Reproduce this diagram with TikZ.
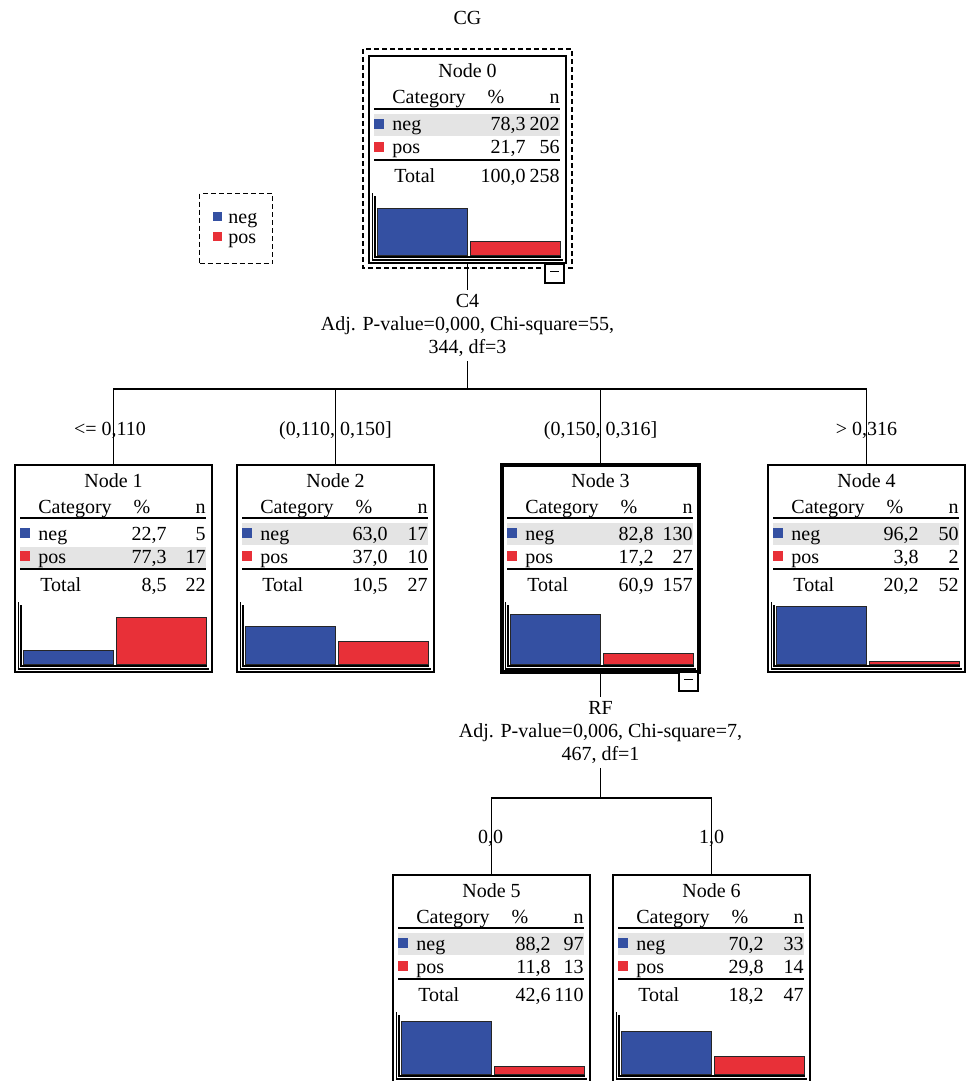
\documentclass[tikz,border=0pt]{standalone}
\usepackage{fontspec}
\setmainfont{Liberation Serif}
\definecolor{barblue}{RGB}{52,80,162}
\definecolor{barred}{RGB}{232,48,56}
\definecolor{hlgray}{RGB}{228,228,228}
\tikzset{
 txt/.style={inner sep=0pt, font=\fontsize{10}{11.5}\selectfont},
 tbox/.style={draw, line width=0.7pt, minimum width=98.5pt, minimum height=103.5pt, inner sep=0pt, outer sep=0pt},
 sepline/.style={line width=0.7pt},
 conn/.style={line width=0.7pt},
 barb/.style={fill=barblue, draw=black!85, line width=0.5pt},
 barr/.style={fill=barred, draw=black!85, line width=0.5pt},
 axisline/.style={line width=0.6pt, draw=black},
 dashbox/.style={draw, dash pattern=on 2.5pt off 1.5pt, line width=0.7pt},
 cbox/.style={draw, line width=0.6pt, minimum size=9.5pt, inner sep=0pt, outer sep=0pt, fill=white},
}
\newcommand\treebox[9]{%
  \def\Tn{#1}\def\TL{#2}\def\TT{#3}\def\Tt{#4}\def\Tnp{#5}\def\Tnn{#6}\def\Tpp{#7}\def\Tpn{#8}\def\Ttp{#9}\treeboxB}
\newcommand\treeboxB[3]{%
  \ifnum\Tnn<\Tpn
    \fill[hlgray] (\TL+5,\TT+82) rectangle (\TL+191,\TT+103);
  \else
    \fill[hlgray] (\TL+5,\TT+58) rectangle (\TL+191,\TT+80);
  \fi
  \node[tbox,#2,anchor=north west] (\Tn) at (\TL,\TT) {};
  \node[txt,anchor=base] (\Tn-title) at (\TL+98.5,\TT+22) {Node \Tt};
  \node[txt,anchor=base west] (\Tn-cat) at (\TL+23,\TT+48) {Category};
  \node[txt,anchor=base] (\Tn-pct) at (\TL+127,\TT+48) {\%};
  \node[txt,anchor=base east] (\Tn-n) at (\TL+191,\TT+48) {n};
  \draw[sepline] (\TL+5,\TT+53) -- (\TL+191,\TT+53);
  \fill[barblue] (\TL+5,\TT+63) rectangle (\TL+15,\TT+73);
  \node[txt,anchor=base west] (\Tn-neg) at (\TL+23,\TT+75) {neg};
  \node[txt,anchor=base east] (\Tn-negp) at (\TL+#3,\TT+75) {\Tnp};
  \node[txt,anchor=base east] (\Tn-negn) at (\TL+191,\TT+75) {\Tnn};
  \fill[barred] (\TL+5,\TT+86) rectangle (\TL+15,\TT+96);
  \node[txt,anchor=base west] (\Tn-pos) at (\TL+23,\TT+98) {pos};
  \node[txt,anchor=base east] (\Tn-posp) at (\TL+#3,\TT+98) {\Tpp};
  \node[txt,anchor=base east] (\Tn-posn) at (\TL+191,\TT+98) {\Tpn};
  \draw[sepline] (\TL+5,\TT+104) -- (\TL+191,\TT+104);
  \node[txt,anchor=base west] (\Tn-tot) at (\TL+25,\TT+126) {Total};
  \node[txt,anchor=base east] (\Tn-totp) at (\TL+#3,\TT+126) {\Ttp};
  \node[txt,anchor=base east] (\Tn-totn) at (\TL+191,\TT+126) {#1};
  \draw[axisline] (\TL+3.5,\TT+137) -- (\TL+3.5,\TT+204) -- (\TL+194,\TT+204);
  \draw[axisline] (\TL+6,\TT+140) -- (\TL+6,\TT+201) -- (\TL+192,\TT+201);
  \pgfmathsetmacro\hneg{60*\Tnn/#1}%
  \pgfmathsetmacro\hpos{60*\Tpn/#1}%
  \draw[barb] (\TL+8,\TT+199) rectangle (\TL+98,\TT+199-\hneg);
  \draw[barr] (\TL+101,\TT+199) rectangle (\TL+191,\TT+199-\hpos);
}
\begin{document}
\begin{tikzpicture}[x=0.5pt,y=-0.5pt]
\useasboundingbox (0,0) rectangle (967,1081);
\fill[white] (0,0) rectangle (967,1081);

\node[txt,anchor=base] (title) at (467.5,25) {CG};

% legend
\node[dashbox, minimum width=36.5pt, minimum height=35pt, inner sep=0pt, anchor=north west] (legend) at (199,193) {};
\fill[barblue] (213,212) rectangle (222,221);
\node[txt,anchor=base west] (legneg) at (228,223) {neg};
\fill[barred] (213,232) rectangle (222,241);
\node[txt,anchor=base west] (legpos) at (228,243) {pos};

% nodes
\draw[dashbox] (363,49) rectangle (572,268);
\treebox{n0}{369}{56}{0}{78,3}{202}{21,7}{56}{100,0}{258}{}{157}
\treebox{n1}{15}{465}{1}{22,7}{5}{77,3}{17}{8,5}{22}{}{152}
\treebox{n2}{237}{465}{2}{63,0}{17}{37,0}{10}{10,5}{27}{}{151}
\treebox{n3}{502}{465}{3}{82,8}{130}{17,2}{27}{60,9}{157}{line width=1.6pt}{152}
\treebox{n4}{768}{465}{4}{96,2}{50}{3,8}{2}{20,2}{52}{}{151}
\treebox{n5}{393}{875}{5}{88,2}{97}{11,8}{13}{42,6}{110}{}{158}
\treebox{n6}{613}{875}{6}{70,2}{33}{29,8}{14}{18,2}{47}{}{151}

% split C4
\node[txt, align=center, inner ysep=2pt, anchor=north] (s0) at (467.5,290)
  {C4\\Adj. P-value=0,000, Chi-square=55,\\344, df=3};
\coordinate (j0) at (467.5,389);
\draw[conn] (n0.south) -- (s0.north);
\draw[conn] (s0.south) -- (j0);
\draw[conn] (j0) -| (n1.north);
\draw[conn] (j0) -| (n2.north);
\draw[conn] (j0) -| (n3.north);
\draw[conn] (j0) -| (n4.north);
\node[txt,anchor=base] (l1) at (110,435) {<= 0,110};
\node[txt,anchor=base] (l2) at (335.5,435) {(0,110, 0,150]};
\node[txt,anchor=base] (l3) at (600.5,435) {(0,150, 0,316]};
\node[txt,anchor=base] (l4) at (866.5,435) {> 0,316};

% split RF
\node[txt, align=center, inner ysep=2pt, anchor=north] (s3) at (600.5,697)
  {RF\\Adj. P-value=0,006, Chi-square=7,\\467, df=1};
\coordinate (j3) at (600.5,798);
\draw[conn] (n3.south) -- (s3.north);
\draw[conn] (s3.south) -- (j3);
\draw[conn] (j3) -| (n5.north);
\draw[conn] (j3) -| (n6.north);
\node[txt,anchor=base] (l5) at (490.5,843) {0,0};
\node[txt,anchor=base] (l6) at (711.5,843) {1,0};

% collapse boxes
\node[cbox, anchor=north east] (c0) at (564,264) {};
\draw[line width=0.6pt] ([xshift=2.5pt,yshift=1pt]c0.west) -- ([xshift=-2.5pt,yshift=1pt]c0.east);
\node[cbox, anchor=north east] (c3) at (698,672) {};
\draw[line width=0.6pt] ([xshift=2.5pt,yshift=1pt]c3.west) -- ([xshift=-2.5pt,yshift=1pt]c3.east);
\end{tikzpicture}
\end{document}
